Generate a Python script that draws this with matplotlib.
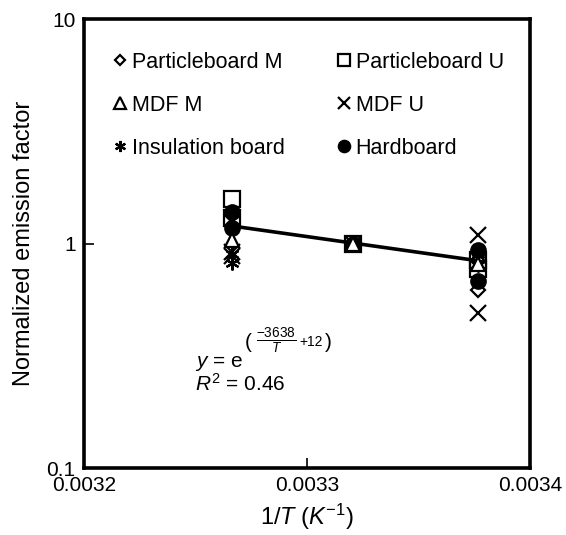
import matplotlib
matplotlib.use("Agg")
import matplotlib.pyplot as plt
from matplotlib.ticker import FixedLocator, FixedFormatter, NullLocator

plt.rcParams['font.family'] = ['Liberation Sans', 'DejaVu Sans']
plt.rcParams['mathtext.fontset'] = 'custom'
plt.rcParams['mathtext.rm'] = 'Liberation Sans'
plt.rcParams['mathtext.it'] = 'Liberation Sans:italic'

# 1/T for 33, 28 and 23 degC
inv_T = [1 / 306.15, 1 / 301.15, 1 / 296.15]

# normalized emission factors (hot, reference, cold)
pb_m_hot = [1.35, 1.2]
pb_m_cold = [0.84, 0.62]
pb_u_hot = [1.58, 1.3]
pb_u_cold = [0.85, 0.77]
mdf_m_hot = [1.04]
mdf_m_cold = [0.81]
mdf_u_hot = [0.92, 0.88]
mdf_u_cold = [1.09, 0.49]
ins_hot = [0.9, 0.82]
ins_cold = [0.9, 0.8]
hb_hot = [1.39, 1.18]
hb_cold = [0.94, 0.68]

fit_x = [inv_T[0], inv_T[2]]
fit_y = [1.2, 0.84]

fig = plt.figure(figsize=(5.66, 5.35), dpi=100)
ax = fig.add_axes([0.1484, 0.1252, 0.788, 0.8384])

ax.plot(fit_x, fit_y, color='black', lw=2.6, zorder=2)


def pts(hot, cold):
    xs = [inv_T[0]] * len(hot) + [inv_T[1]] + [inv_T[2]] * len(cold)
    ys = list(hot) + [1.0] + list(cold)
    return xs, ys


series = [
    ("Insulation board", ins_hot, ins_cold, dict(marker=(6, 2, 0), ms=10, mew=1.6, color='black')),
    ("MDF U", mdf_u_hot, mdf_u_cold, dict(marker='x', ms=11, mew=1.6, color='black')),
    ("Hardboard", hb_hot, hb_cold, dict(marker='o', ms=11, color='black')),
    ("Particleboard M", pb_m_hot, pb_m_cold, dict(marker='D', ms=7, mfc='none', mec='black', mew=1.6)),
    ("Particleboard U", pb_u_hot, pb_u_cold, dict(marker='s', ms=11, mfc='none', mec='black', mew=1.6)),
    ("MDF M", mdf_m_hot, mdf_m_cold, dict(marker='^', ms=10, mfc='white', mec='black', mew=1.6)),
]

handles = {}
for name, hot, cold, style in series:
    xs, ys = pts(hot, cold)
    h, = ax.plot(xs, ys, ls='none', label=name, zorder=3, **style)
    handles[name] = h

order = ["Particleboard M", "MDF M", "Insulation board",
         "Particleboard U", "MDF U", "Hardboard"]
leg = ax.legend([handles[n] for n in order], order, ncol=2, loc='upper left',
                bbox_to_anchor=(0.0224, 0.971), frameon=False, fontsize=15.5,
                handlelength=0.6, handletextpad=0.25, labelspacing=1.02,
                columnspacing=2.45, markerscale=0.8)

ax.set_yscale('log')
ax.set_ylim(0.1, 10)
ax.set_xlim(0.0032, 0.0034)
ax.yaxis.set_major_locator(FixedLocator([0.1, 1, 10]))
ax.yaxis.set_major_formatter(FixedFormatter(["0.1", "1", "10"]))
ax.yaxis.set_minor_locator(NullLocator())
ax.xaxis.set_major_locator(FixedLocator([0.0032, 0.0033, 0.0034]))
ax.xaxis.set_major_formatter(FixedFormatter(["0.0032", "0.0033", "0.0034"]))
ax.tick_params(direction='in', length=7, width=1.2, labelsize=15, pad=6)
for s in ax.spines.values():
    s.set_linewidth(2.6)

ax.set_xlabel(r'1/$T$ ($K^{\mathrm{-1}}$)', fontsize=17, labelpad=5)
ax.set_ylabel('Normalized emission factor', fontsize=17, labelpad=8)

# fitted equation, built in pieces so the exponent keeps its size
ax.text(0.249, 0.225, r'$y$ = e', transform=ax.transAxes, fontsize=15, va='baseline')
ax.text(0.361, 0.279, '(', transform=ax.transAxes, fontsize=15, va='center')
ax.text(0.4305, 0.283, r'$\frac{-3638}{T}$', transform=ax.transAxes, fontsize=14,
        ha='center', va='center')
ax.text(0.484, 0.281, '+12', transform=ax.transAxes, fontsize=10, va='center')
ax.text(0.540, 0.279, ')', transform=ax.transAxes, fontsize=15, va='center')
ax.text(0.249, 0.172, r'$R^{2}$ = 0.46', transform=ax.transAxes, fontsize=15, va='baseline')

fig.savefig("out.png", dpi=100)
